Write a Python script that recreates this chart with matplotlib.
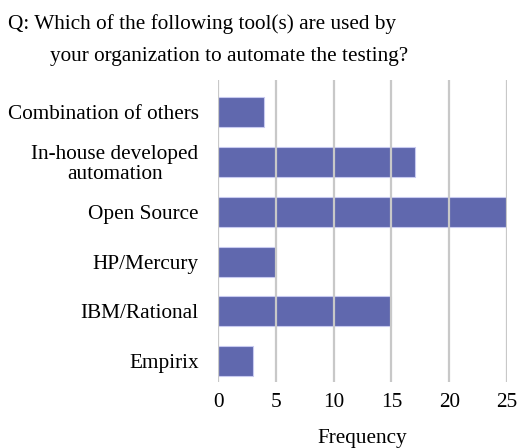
import matplotlib.pyplot as plt

# Survey answers, listed bottom to top as drawn
tools = ["Empirix", "IBM/Rational", "HP/Mercury", "Open Source",
         "In-house developed\nautomation", "Combination of others"]
frequency = [3, 15, 5, 25, 17, 4]
xticks = [0, 5, 10, 15, 20, 25]

plt.rcParams['font.family'] = ['Liberation Serif', 'DejaVu Serif']
fs = 15.3

fig = plt.figure(figsize=(5.17, 4.48), dpi=100)
ax = fig.add_axes([0.4217, 0.147, 0.559, 0.674])

ax.barh(range(len(tools)), frequency, height=0.6, color='#6068ae',
        edgecolor='#c8caf0', linewidth=0.8, zorder=1)

# grid drawn over the bars, like the original
for x in xticks:
    ax.axvline(x, color='#c8c8c8', linewidth=1.6, zorder=2)

ax.set_xlim(0, 25)
ax.set_ylim(-0.42, 5.64)
ax.set_xticks(xticks)
ax.set_yticks(range(len(tools)))
ax.set_yticklabels(tools, multialignment='center', linespacing=1.05)
ax.tick_params(axis='both', length=0, labelsize=fs)
ax.tick_params(axis='y', pad=14)
ax.tick_params(axis='x', pad=8)
for s in ax.spines.values():
    s.set_visible(False)

ax.set_xlabel("Frequency", fontsize=fs, labelpad=12)

fig.text(0.015, 0.946, "Q: Which of the following tool(s) are used by",
         fontsize=fs, va='center')
fig.text(0.097, 0.873, "your organization to automate the testing?",
         fontsize=fs, va='center')

plt.savefig("out.png", dpi=100)
